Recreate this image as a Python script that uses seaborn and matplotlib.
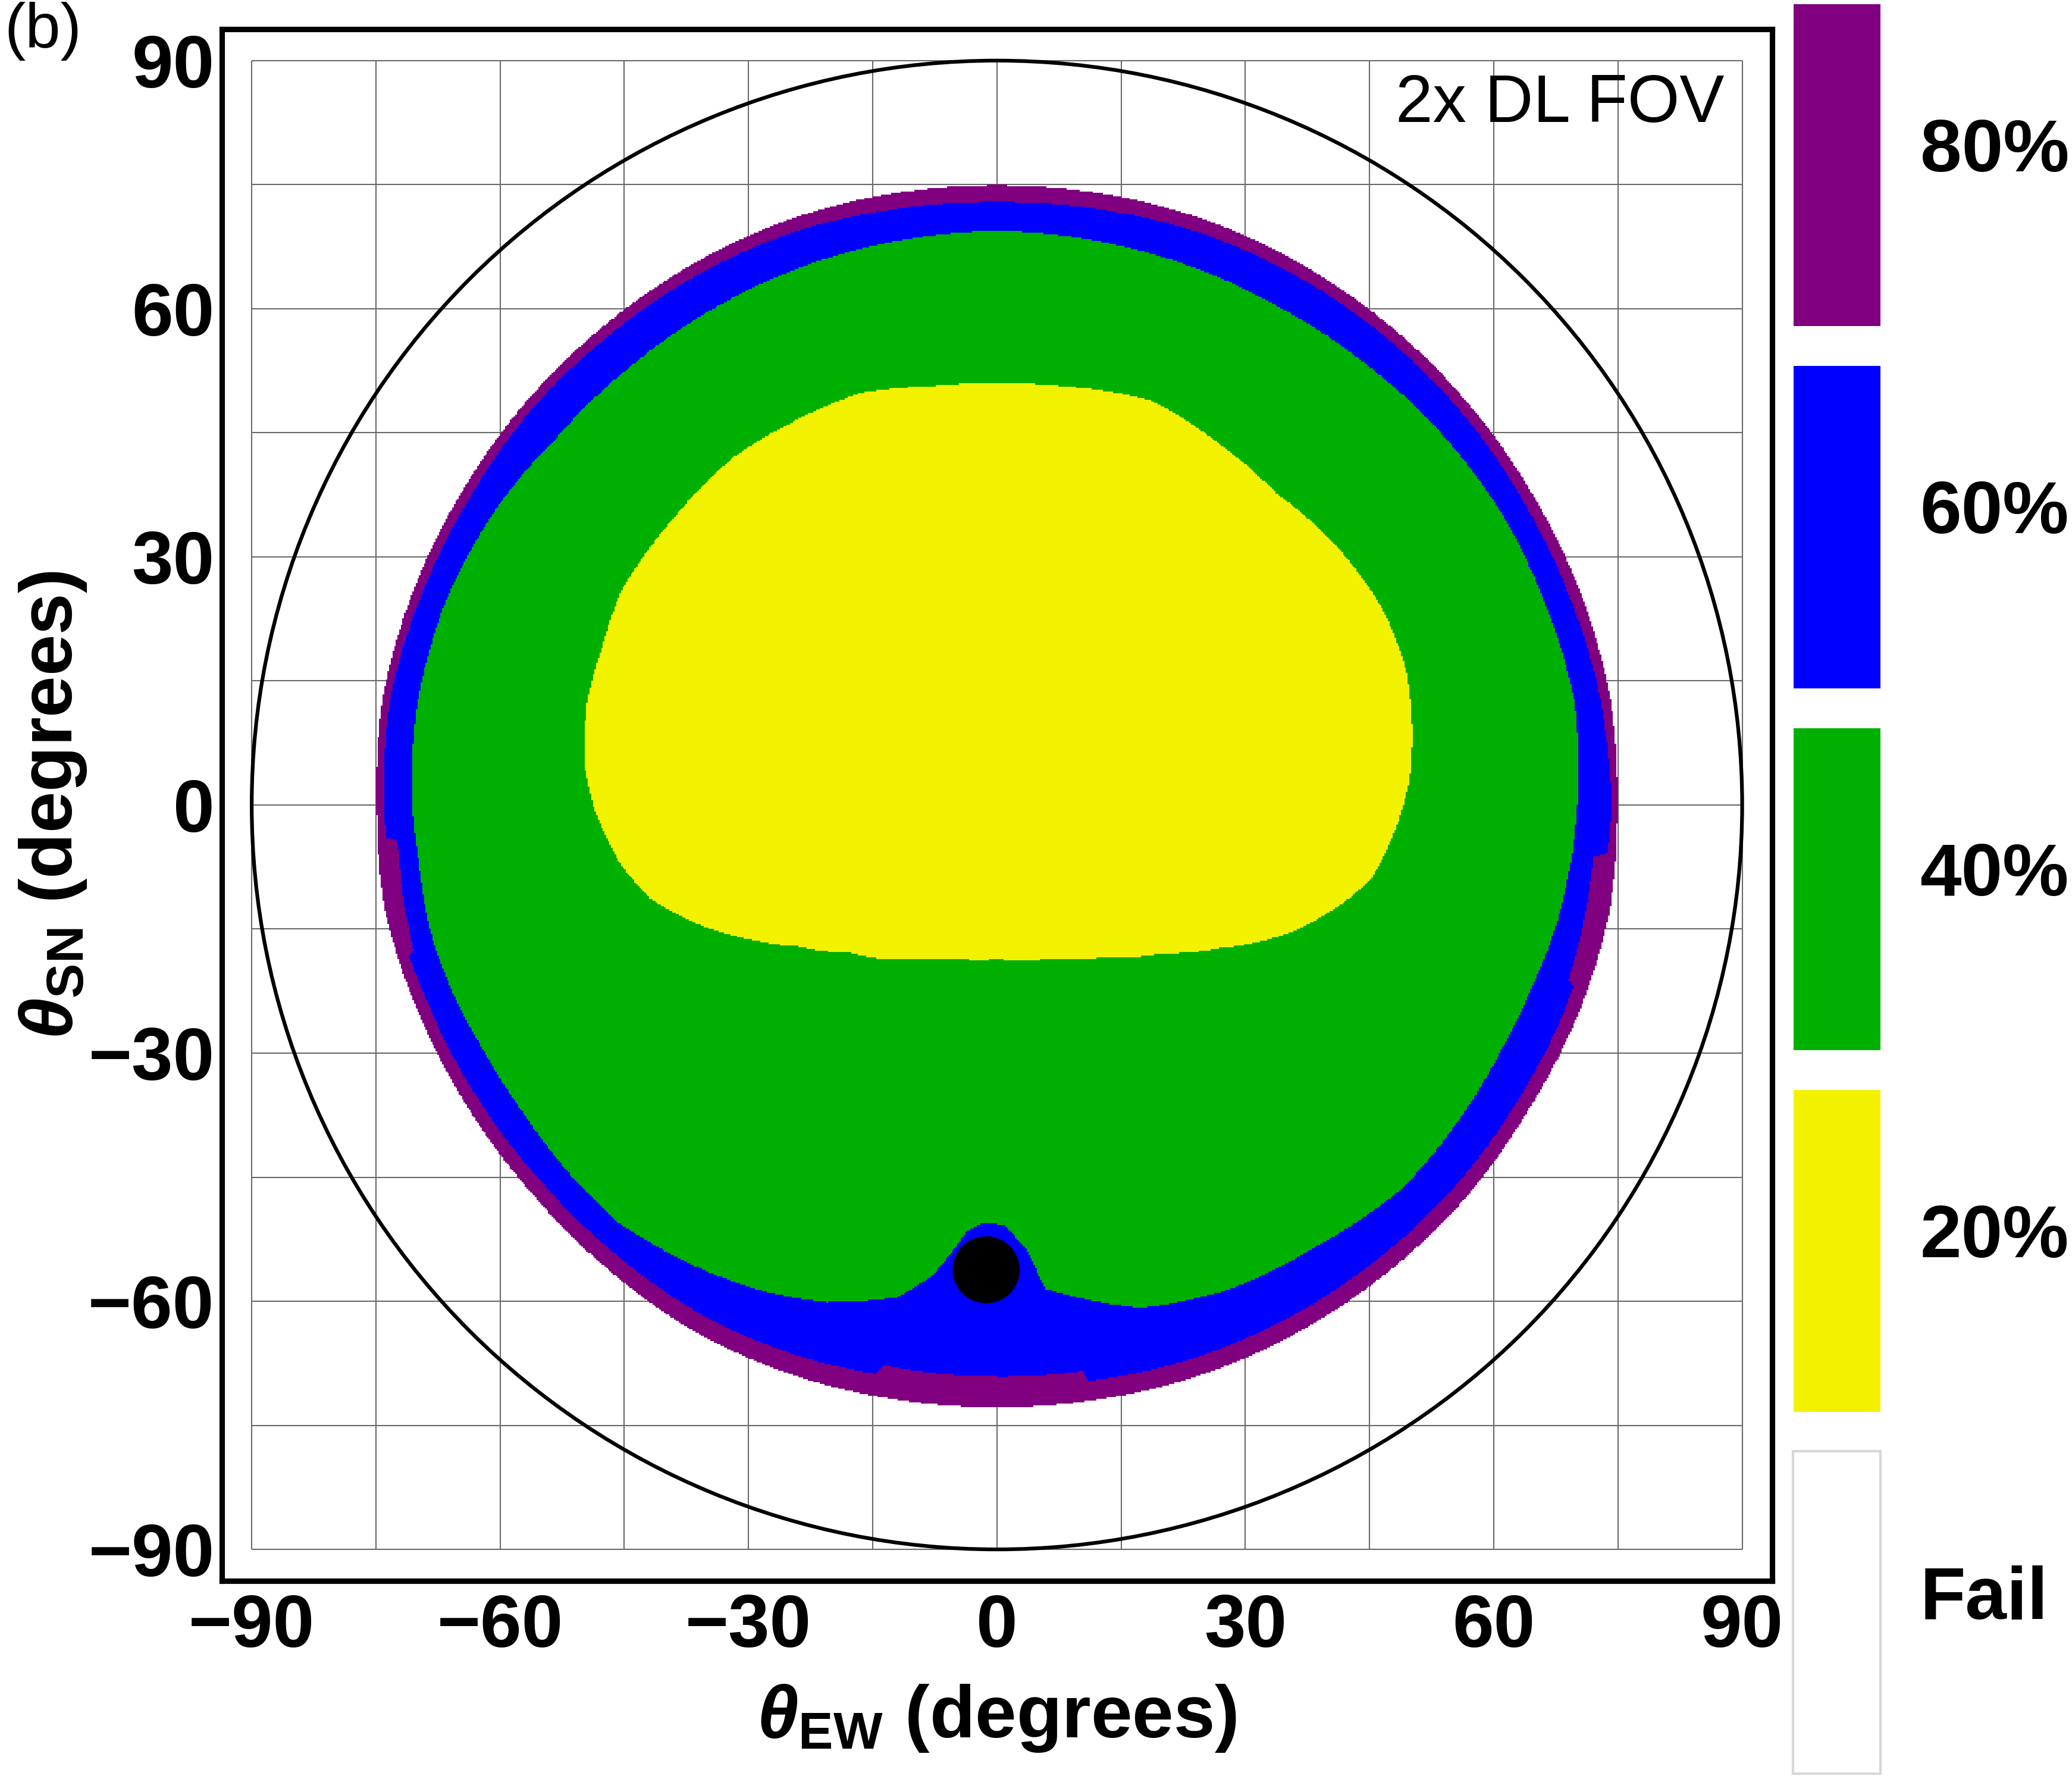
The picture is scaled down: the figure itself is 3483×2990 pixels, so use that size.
import numpy as np
import matplotlib
matplotlib.use("Agg")
import matplotlib.pyplot as plt
from matplotlib.colors import ListedColormap
from matplotlib.patches import Circle, Rectangle
import seaborn as sns

# legend categories, top to bottom, and their colours
categories = ["80%", "60%", "40%", "20%", "Fail"]
cat_colors = ["#800080", "#0000ff", "#00b000", "#f2f200", "#ffffff"]

# outer edge of the coloured disc (80 % zone), polar: angle / radius in degrees
edge80_ang = [0, 10, 20, 30, 40, 50, 60, 70, 80, 90, 100, 110, 120, 130, 140, 150, 160, 170,
              180, 190, 200, 210, 220, 230, 240, 250, 260, 270, 280, 290, 300, 310, 320, 330, 340, 350]
edge80_r = [74.9, 75.2, 75.0, 74.8, 74.8, 74.9, 75.0, 75.1, 75.0, 74.9, 75.0, 75.1, 75.0, 74.9, 74.9, 74.9, 75.1, 75.3,
            74.9, 75.0, 74.2, 73.6, 73.2, 73.2, 73.4, 73.2, 72.9, 72.8, 72.9, 73.2, 73.4, 73.6, 73.9, 74.0, 74.6, 75.1]

# outer edge of the 60 % zone (blue), polar
edge60_ang = [0, 10, 20, 30, 40, 50, 60, 70, 80, 90, 100, 110, 120, 130, 140, 150,
              160, 170, 180, 183, 183.5, 194, 194.5, 200, 210, 220, 230, 240, 250,
              258, 258.6, 270, 278.6, 279, 290, 300, 310, 320, 330, 340, 342.5, 343,
              355, 355.5]
edge60_r = [74.2, 74.0, 73.6, 73.4, 73.5, 73.5, 73.5, 73.4, 73.1, 72.9, 73.1, 73.5, 73.6, 73.6, 73.8, 73.7,
            74.0, 74.4, 74.0, 73.9, 72.5, 72.6, 73.3, 72.7, 72.0, 71.4, 71.2, 71.2, 70.8,
            70.3, 69.1, 69.1, 69.2, 70.5, 71.0, 71.3, 71.6, 72.0, 72.3, 72.9, 73.0, 72.2,
            72.3, 74.0]

# outer edge of the 40 % zone (green), x / y in degrees
edge40_x = [70.1, 69.8, 66.3, 61.0, 53.6, 44.7, 34.6, 23.7, 12.0, 0.0,
            -12.0, -23.7, -34.6, -44.4, -53.1, -60.9, -66.7, -70.0, -70.6,
            -69.8, -68.5, -65.8, -61.8, -57.0, -51.5, -45.7, -35.2, -27.8, -20.5,
            -12.0, -7.8, -3.6, -1.6, 1.0, 3.6, 5.9, 10.1, 17.4, 28.0,
            38.5, 49.0, 55.5, 60.7, 64.6, 67.4, 69.3]
edge40_y = [0.0, 12.3, 24.1, 35.2, 45.0, 53.2, 59.9, 65.0, 68.2, 69.4,
            68.2, 65.0, 59.8, 52.9, 44.5, 35.2, 24.3, 12.3, 0.0,
            -7.0, -15.0, -22.5, -30.0, -37.5, -44.7, -50.5, -56.3, -58.9, -60.1,
            -59.5, -56.9, -51.5, -50.5, -50.8, -53.7, -58.5, -59.6, -60.8, -58.6,
            -53.4, -46.3, -38.5, -30.0, -22.0, -15.0, -7.0]

# outer edge of the 20 % zone (yellow), x / y in degrees
edge20_x = [0.0, 6.5, 13.1, 20.0, 26.8, 35.7, 41.9, 45.3, 48.4, 49.8, 50.1, 49.5, 46.7, 41.2,
            33.7, 26.8, 18.9, 8.3, 0.0, -8.3, -16.5, -24.7, -31.6, -39.1, -45.3,
            -47.7, -49.5, -49.8, -48.7, -45.7, -41.9, -36.4, -29.5, -24.0, -17.9, -9.0, -4.5]
edge20_y = [-18.6, -18.5, -18.3, -17.9, -17.3, -15.3, -11.8, -8.8, -2.2, 2.8, 9.9, 16.0, 23.5, 31.1,
            37.7, 43.7, 48.8, 50.6, 50.9, 50.6, 49.8, 46.3, 42.2, 34.6, 26.0,
            19.0, 12.4, 4.9, -0.2, -6.8, -11.3, -14.3, -16.3, -17.1, -17.8, -18.5, -18.6]

# black marker
dot_x, dot_y, dot_r = -1.3, -56.2, 3.9

ticks = [-90, -60, -30, 0, 30, 60, 90]
fov_label = "2x DL FOV"


def polar_edge(ang, r):
    ang = np.asarray(ang, float) % 360
    r = np.asarray(r, float)
    order = np.argsort(ang)
    return ang[order], r[order]


def xy_edge(x, y):
    x = np.asarray(x, float)
    y = np.asarray(y, float)
    return polar_edge(np.degrees(np.arctan2(y, x)), np.hypot(x, y))


zones = [polar_edge(edge80_ang, edge80_r),
         polar_edge(edge60_ang, edge60_r),
         xy_edge(edge40_x, edge40_y),
         xy_edge(edge20_x, edge20_y)]

# rasterise the zones: level 1 = 80 %, ... level 4 = 20 %, 0 = fail
step = 0.2
half = 76.0
centers = np.arange(-half + step / 2, half, step)
gx, gy = np.meshgrid(centers, centers[::-1])
phi = np.degrees(np.arctan2(gy, gx)) % 360
rad = np.hypot(gx, gy)
level = np.zeros(gx.shape, dtype=int)
for a, r in zones:
    level += rad <= np.interp(phi, a, r, period=360)

sns.set_style("white")
plt.rcParams["font.family"] = ["Liberation Sans", "DejaVu Sans"]
plt.rcParams["font.weight"] = "bold"
plt.rcParams["text.color"] = "black"
plt.rcParams["axes.labelcolor"] = "black"
plt.rcParams["xtick.color"] = "black"
plt.rcParams["ytick.color"] = "black"
plt.rcParams["mathtext.fontset"] = "custom"
plt.rcParams["mathtext.rm"] = "Liberation Sans:bold"
plt.rcParams["mathtext.it"] = "Liberation Sans:italic:bold"
plt.rcParams["mathtext.bf"] = "Liberation Sans:bold"

fig = plt.figure(figsize=(3483 / 300, 2990 / 300), dpi=300)
ax = fig.add_axes([0.1071, 0.1114, 0.7481, 0.8722])
ax.set_xlim(-93.6, 93.6)
ax.set_ylim(-93.8, 93.8)
ax.set_facecolor("white")

# grid every 15 degrees inside the +-90 box
grid_pos = np.arange(-90, 91, 15)
ax.vlines(grid_pos, -90, 90, colors="#6a6a6a", lw=0.5, zorder=0)
ax.hlines(grid_pos, -90, 90, colors="#6a6a6a", lw=0.5, zorder=0)
ax.add_patch(Circle((0, 0), 90, fill=False, ec="black", lw=1.5))

ax.set_xticks(ticks)
ax.set_yticks(ticks)
ax.tick_params(length=0, labelsize=30, labelcolor="black")
ax.tick_params(axis="x", pad=5)
ax.tick_params(axis="y", pad=3)
for sp in ax.spines.values():
    sp.set_linewidth(2.2)
    sp.set_color("black")

ax.text(87.8, 82.6, fov_label, ha="right", va="baseline", fontsize=27, fontweight="normal")
ax.set_xlabel(r"$\theta_{\mathrm{EW}}$ (degrees)", fontsize=30, fontweight="bold")
ax.set_ylabel(r"$\theta_{\mathrm{SN}}$ (degrees)", fontsize=30, fontweight="bold")
ax.xaxis.set_label_coords(0.5, -0.0886)
ax.xaxis.label.set_va("center")
ax.yaxis.set_label_coords(-0.109, 0.5)
ax.yaxis.label.set_va("center")

# heatmap axes sitting exactly on the +-76 degree square of the main axes
inv = fig.transFigure.inverted()
x0f, y0f = inv.transform(ax.transData.transform((-half, -half)))
x1f, y1f = inv.transform(ax.transData.transform((half, half)))
hax = fig.add_axes([x0f, y0f, x1f - x0f, y1f - y0f])
sns.heatmap(level, ax=hax, mask=(level == 0), cmap=ListedColormap(cat_colors[:4]),
            vmin=0.5, vmax=4.5, cbar=False, xticklabels=False, yticklabels=False)
hax.patch.set_alpha(0)
hax.axis("off")
hax.add_patch(Circle((dot_x, dot_y), dot_r, transform=ax.transData, color="black", zorder=5))

fig.text(0.002, 0.999, "(b)", ha="left", va="top", fontsize=25.5, fontweight="normal")

# legend: colour blocks with white gaps
gap_lw = 15.7
leg_pos = [0.8560, -0.0080, 0.0609, 1.0169]
lax = fig.add_axes(leg_pos)
lax.set_zorder(-1)
sns.heatmap(np.arange(len(categories)).reshape(-1, 1), ax=lax, cmap=ListedColormap(cat_colors),
            vmin=-0.5, vmax=len(categories) - 0.5, linewidths=gap_lw, linecolor="white",
            cbar=False, xticklabels=False, yticklabels=False)
lax.axis("off")
w_in = leg_pos[2] * fig.get_figwidth()
cell_in = leg_pos[3] * fig.get_figheight() / len(categories)
dx = gap_lw / 144 / w_in
dy = gap_lw / 144 / cell_in
fail_i = categories.index("Fail")
lax.add_patch(Rectangle((dx, fail_i + dy), 1 - 2 * dx, 1 - 2 * dy, fill=False,
                        ec="#d8d8d8", lw=1.0, zorder=5))
for i, lab in enumerate(categories):
    lax.text(1.16, i + 0.518, lab, ha="left", va="baseline", fontsize=30,
             fontweight="bold", color="black")

fig.savefig("out.png", dpi=300)
